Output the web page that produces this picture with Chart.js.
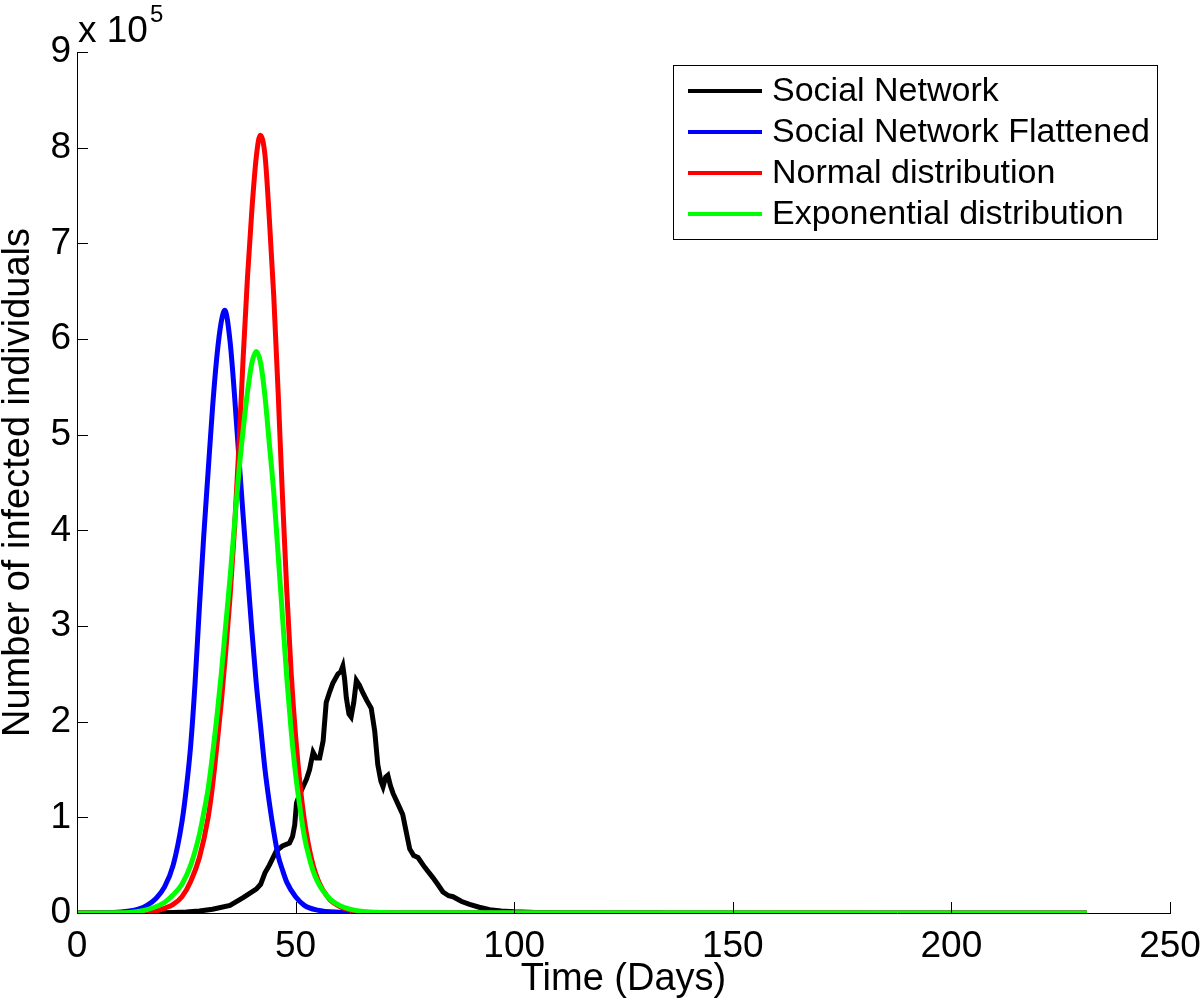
<!DOCTYPE html>
<html>
<head>
<meta charset="utf-8">
<script src="https://cdn.jsdelivr.net/npm/chart.js@4.4.1/dist/chart.umd.min.js"></script>
<style>
  html, body { margin: 0; padding: 0; background: #fff; }
  #wrap { position: relative; width: 1200px; height: 1006px; }
</style>
</head>
<body>
<div id="wrap"><canvas id="c" width="1200" height="1006"></canvas></div>
<script>
// ---- data ----
const seriesLabels = ['Social Network', 'Social Network Flattened', 'Normal distribution', 'Exponential distribution'];

const xTicks = [0, 50, 100, 150, 200, 250];
const yTicks = [0, 1, 2, 3, 4, 5, 6, 7, 8, 9]; // x 10^5

const socialDays = [0, 18, 22, 25, 28, 31, 35, 38, 41, 42, 43, 44, 45.6, 47, 48.6, 49.3, 49.8, 50.2, 51, 52.5, 53.2, 54, 54.7, 55.5, 56.3, 57, 57.7, 58.5, 59.7, 60.3, 60.8, 61.2, 61.6, 62.2, 62.7, 63.3, 63.9, 64.6, 65.4, 66.3, 67.3, 68.1, 68.8, 69.5, 70, 70.6, 71.1, 71.7, 72.3, 73.5, 74.5, 75.3, 76.1, 77, 78, 79.5, 81.4, 82.5, 83.7, 85, 86, 88, 89.8, 92, 94.4, 97, 100, 105, 110, 120, 134];
const socialValues = [0, 0, 500, 1000, 2000, 4000, 8000, 16000, 25000, 30000, 42000, 50000, 65000, 70000, 73000, 80000, 92000, 115000, 125000, 140000, 150000, 168000, 162000, 162000, 180000, 220000, 230000, 240000, 250000, 252000, 258000, 245000, 225000, 208000, 205000, 220000, 243000, 238000, 230000, 222000, 214000, 190000, 155000, 138000, 132000, 142000, 144000, 133000, 125000, 113000, 103000, 85000, 67000, 60000, 58000, 48000, 37000, 30000, 22000, 18000, 17000, 12000, 9000, 6000, 3500, 2000, 1200, 600, 300, 100, 0];

const flattenedDays = [0, 5, 10, 12, 14, 16, 18, 20, 22, 24, 25, 26, 27, 28, 29, 30, 31, 32, 33, 33.8, 35, 36, 37, 38, 39, 40, 41, 42, 43, 44, 45, 46, 47, 48, 50, 52, 55, 60, 70, 231];
const flattenedValues = [0, 200, 1000, 2000, 4000, 8000, 15000, 27000, 50000, 95000, 130000, 175000, 240000, 320000, 395000, 462000, 528000, 582000, 618000, 630000, 598000, 543000, 478000, 415000, 355000, 295000, 240000, 195000, 150000, 115000, 85000, 60000, 45000, 32000, 17000, 8000, 3000, 800, 0, 0];

const normalDays = [0, 10, 14, 16, 18, 20, 22, 24, 26, 28, 30, 31, 32, 33, 34, 35, 36, 37, 38, 39, 40, 41, 41.9, 43, 44, 45, 46, 47, 48, 49, 50, 51, 52, 53, 54, 55, 56, 57, 58, 60, 62, 65, 70, 231];
const normalValues = [0, 0, 200, 600, 2000, 5000, 9000, 17000, 33000, 58000, 100000, 133000, 175000, 220000, 272000, 330000, 400000, 485000, 580000, 665000, 735000, 790000, 813000, 792000, 725000, 645000, 545000, 435000, 335000, 250000, 185000, 135000, 97000, 70000, 50000, 36000, 26000, 19000, 13000, 7000, 3500, 1000, 0, 0];

const exponentialDays = [0, 10, 12, 14, 16, 18, 20, 22, 24, 26, 28, 29, 30, 31, 32, 33, 34, 35, 36, 37, 38, 39, 40, 41, 42, 43, 44, 45, 46, 47, 48, 49, 50, 51, 52, 53, 54, 55, 56, 58, 60, 62, 64, 67, 72, 231];
const exponentialValues = [0, 200, 600, 1500, 3500, 6500, 11000, 19000, 30000, 50000, 82000, 105000, 130000, 165000, 205000, 250000, 300000, 350000, 405000, 460000, 505000, 545000, 575000, 587000, 575000, 540000, 490000, 440000, 375000, 310000, 245000, 190000, 145000, 110000, 80000, 60000, 44000, 33000, 25000, 14000, 8000, 4500, 2500, 1000, 200, 0];

function pts(xs, ys) { return xs.map((x, i) => ({ x: x, y: ys[i] })); }

// ---- plugins: inward tick marks, exponent label, boxed legend ----
const inwardTicks = {
  id: 'inwardTicks',
  afterDraw(chart) {
    const { ctx, chartArea, scales } = chart;
    ctx.save();
    ctx.strokeStyle = '#000';
    ctx.lineWidth = 1;
    const len = 11;
    xTicks.forEach(v => {
      const px = Math.round(scales.x.getPixelForValue(v)) + 0.5;
      ctx.beginPath();
      ctx.moveTo(px, chartArea.bottom);
      ctx.lineTo(px, chartArea.bottom - len);
      ctx.stroke();
    });
    yTicks.forEach(v => {
      const py = Math.round(scales.y.getPixelForValue(v * 1e5)) + 0.5;
      ctx.beginPath();
      ctx.moveTo(chartArea.left, py);
      ctx.lineTo(chartArea.left + len, py);
      ctx.stroke();
    });
    ctx.restore();
  }
};

const exponentLabel = {
  id: 'exponentLabel',
  afterDraw(chart) {
    const { ctx, chartArea } = chart;
    ctx.save();
    ctx.fillStyle = '#000';
    ctx.textBaseline = 'alphabetic';
    ctx.textAlign = 'left';
    ctx.font = '37px "Liberation Sans", Arial, sans-serif';
    ctx.fillText('x 10', chartArea.left + 1, 42);
    const w = ctx.measureText('x 10').width;
    ctx.font = '24px "Liberation Sans", Arial, sans-serif';
    ctx.fillText('5', chartArea.left + 1 + w + 2, 22);
    ctx.restore();
  }
};

const boxLegend = {
  id: 'boxLegend',
  afterDraw(chart) {
    const { ctx } = chart;
    const box = { left: 673, top: 65, right: 1157, bottom: 239 };
    ctx.save();
    ctx.fillStyle = '#fff';
    ctx.fillRect(box.left, box.top, box.right - box.left, box.bottom - box.top);
    ctx.strokeStyle = '#000';
    ctx.lineWidth = 1;
    ctx.strokeRect(box.left + 0.5, box.top + 0.5, box.right - box.left, box.bottom - box.top);
    ctx.font = '34px "Liberation Sans", Arial, sans-serif';
    ctx.textBaseline = 'middle';
    ctx.textAlign = 'left';
    chart.data.datasets.forEach((ds, i) => {
      const y = 91 + 41 * i;
      ctx.strokeStyle = ds.borderColor;
      ctx.lineWidth = 4;
      ctx.beginPath();
      ctx.moveTo(688, y);
      ctx.lineTo(762, y);
      ctx.stroke();
      ctx.fillStyle = '#000';
      ctx.fillText(ds.label, 772, y + 1);
    });
    ctx.restore();
  }
};

const tickFont = { family: '"Liberation Sans", Arial, sans-serif', size: 37 };
const titleFont = { family: '"Liberation Sans", Arial, sans-serif', size: 38, lineHeight: 1.0 };

new Chart(document.getElementById('c'), {
  type: 'line',
  data: {
    datasets: [
      { label: seriesLabels[0], data: pts(socialDays, socialValues), borderColor: '#000000', borderWidth: 5, pointRadius: 0, tension: 0, order: 4 },
      { label: seriesLabels[1], data: pts(flattenedDays, flattenedValues), borderColor: '#0000ff', borderWidth: 5, pointRadius: 0, cubicInterpolationMode: 'monotone', order: 3 },
      { label: seriesLabels[2], data: pts(normalDays, normalValues), borderColor: '#ff0000', borderWidth: 5, pointRadius: 0, cubicInterpolationMode: 'monotone', order: 2 },
      { label: seriesLabels[3], data: pts(exponentialDays, exponentialValues), borderColor: '#00ff00', borderWidth: 5, pointRadius: 0, cubicInterpolationMode: 'monotone', order: 1 }
    ]
  },
  options: {
    responsive: false,
    animation: false,
    layout: { padding: { left: 0, top: 52, right: 30, bottom: 0 } },
    plugins: { legend: { display: false }, tooltip: { enabled: false } },
    scales: {
      x: {
        type: 'linear',
        min: 0, max: 250,
        afterBuildTicks: (s) => { s.ticks = xTicks.map(v => ({ value: v })); },
        afterFit: (s) => { s.height = 93; s.paddingLeft = 0; s.paddingRight = 0; },
        grid: { display: false, drawTicks: false },
        border: { display: true, color: '#000', width: 1 },
        ticks: { font: tickFont, color: '#000', padding: 12, maxRotation: 0, autoSkip: false },
        title: { display: true, text: 'Time (Days)', font: titleFont, color: '#000', padding: { top: 0, bottom: 7 } }
      },
      y: {
        type: 'linear',
        min: 0, max: 900000,
        afterBuildTicks: (s) => { s.ticks = yTicks.map(v => ({ value: v * 1e5 })); },
        afterFit: (s) => { s.width = 77; s.paddingTop = 0; s.paddingBottom = 0; },
        grid: { display: false, drawTicks: false },
        border: { display: true, color: '#000', width: 1 },
        ticks: { font: tickFont, color: '#000', padding: 6, callback: (v) => String(v / 1e5) },
        title: { display: true, text: 'Number of infected individuals', font: titleFont, color: '#000', padding: { top: 0, bottom: 0 } }
      }
    }
  },
  plugins: [inwardTicks, exponentLabel, boxLegend]
});
</script>
</body>
</html>
